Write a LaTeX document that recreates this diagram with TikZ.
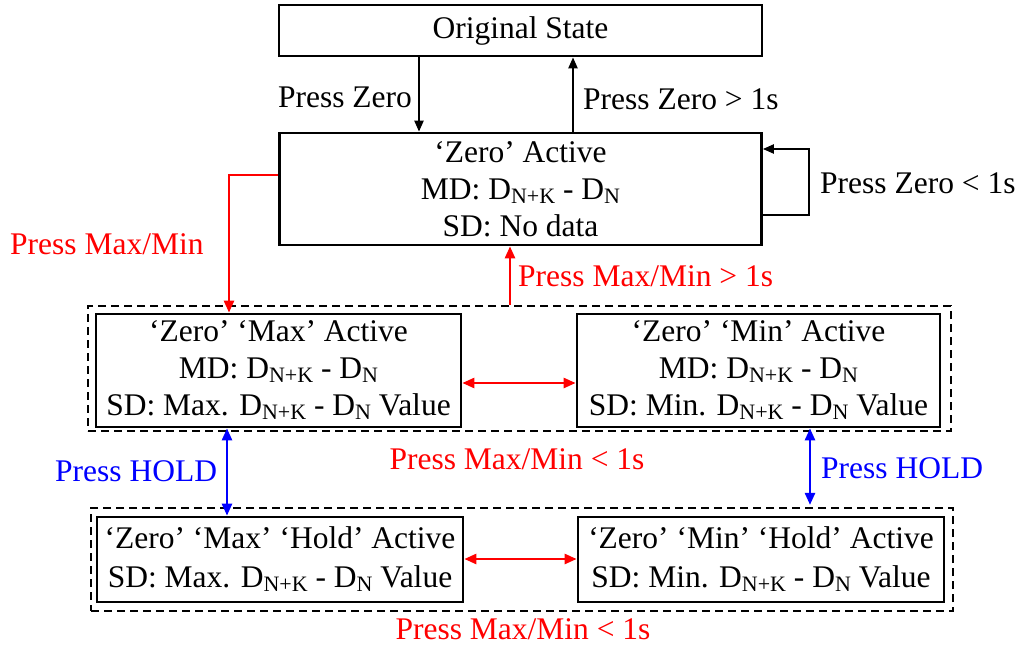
\documentclass[tikz,border=0pt]{standalone}
\usepackage{fontspec}
\setmainfont{Liberation Serif}
\usetikzlibrary{arrows.meta}
\newcommand{\Dsub}[1]{D\raisebox{-4pt}{\fontsize{22}{22}\selectfont #1}}
\begin{document}
\begin{tikzpicture}[x=1pt,y=-1pt,
  font=\fontsize{31.5}{37}\selectfont,
  box/.style={draw, line width=2.7pt, inner sep=0pt, align=center},
  grp/.style={draw, dash pattern=on 8pt off 5pt, line width=2.2pt, inner sep=0pt},
  arr/.style={line width=2.2pt, -{Triangle[length=11pt,width=9pt]}},
  rarr/.style={line width=2.5pt, -{Triangle[length=12pt,width=10pt]}},
  darr/.style={line width=2.5pt, {Triangle[length=12pt,width=10pt]}-{Triangle[length=12pt,width=10pt]}},
  lbl/.style={inner sep=0pt}]
\useasboundingbox (0,0) rectangle (1021,645);

% group boxes
\node[grp, minimum width=863pt, minimum height=125pt] (grpA) at (519.5,368.5) {};
\node[grp, minimum width=862pt, minimum height=103pt] (grpB) at (522,559.5) {};

% state boxes
\node[box, minimum width=483pt, minimum height=51pt] (orig) at (520.5,30.5) {Original State};
\node[box, minimum width=482pt, minimum height=112pt] (zero) at (520.5,189)
  {‘Zero’ Active\\MD: \Dsub{N+K} - \Dsub{N}\\SD: No data};
\node[box, minimum width=365pt, minimum height=113pt] (maxb) at (278.5,370.5)
  {‘Zero’ ‘Max’ Active\\MD: \Dsub{N+K} - \Dsub{N}\\SD: Max. \Dsub{N+K} - \Dsub{N} Value};
\node[box, minimum width=363pt, minimum height=113pt] (minb) at (758.5,370.5)
  {‘Zero’ ‘Min’ Active\\MD: \Dsub{N+K} - \Dsub{N}\\SD: Min. \Dsub{N+K} - \Dsub{N} Value};
\node[box, minimum width=366pt, minimum height=85pt] (maxh) at (280,559.5)
  {‘Zero’ ‘Max’ ‘Hold’ Active\\[2pt]SD: Max. \Dsub{N+K} - \Dsub{N} Value};
\node[box, minimum width=366pt, minimum height=85pt] (minh) at (761,559.5)
  {‘Zero’ ‘Min’ ‘Hold’ Active\\[2pt]SD: Min. \Dsub{N+K} - \Dsub{N} Value};

% helper coordinates
\coordinate (lA) at (0,175);
\coordinate (lB) at (229,0);
\coordinate (lC) at (510,0);
\coordinate (lD) at (419,0);
\coordinate (lE) at (573,0);
\coordinate (lF) at (0,215);
\coordinate (lG) at (809,149);
\coordinate (lH) at (0,149);
\coordinate (lI) at (227,0);
\coordinate (lJ) at (810,0);
\coordinate (lK) at (0,383);
\coordinate (lL) at (0,559);

% connectors
\draw[arr] (orig.south -| lD) -- (zero.north -| lD);
\draw[arr] (zero.north -| lE) -- (orig.south -| lE);
\draw[arr] (zero.east |- lF) -| (lG) |- (zero.east |- lH);
\draw[rarr, red] (zero.west |- lA) -| (lB |- maxb.north);
\draw[rarr, red] (grpA.north -| lC) -- (zero.south -| lC);
\draw[darr, red] (maxb.east |- lK) -- (minb.west |- lK);
\draw[darr, red] (maxh.east |- lL) -- (minh.west |- lL);
\draw[darr, blue] (maxb.south -| lI) -- (maxh.north -| lI);
\draw[darr, blue, shorten >=2pt] (minb.south -| lJ) -- (grpB.north -| lJ);

% labels
\node[lbl] (t1) at (345,97) {Press Zero};
\node[lbl, anchor=west] (t2) at (583,99) {Press Zero > 1s};
\node[lbl, anchor=west] (t3) at (820,183) {Press Zero < 1s};
\node[lbl, red, anchor=west] (t4) at (10,244) {Press Max/Min};
\node[lbl, red, anchor=west] (t5) at (518,276) {Press Max/Min > 1s};
\node[lbl, red] (t6) at (517,459) {Press Max/Min < 1s};
\node[lbl, blue, anchor=west] (t7) at (55,471) {Press HOLD};
\node[lbl, blue, anchor=west] (t8) at (821,468) {Press HOLD};
\node[lbl, red] (t9) at (523,629) {Press Max/Min < 1s};
\end{tikzpicture}
\end{document}
